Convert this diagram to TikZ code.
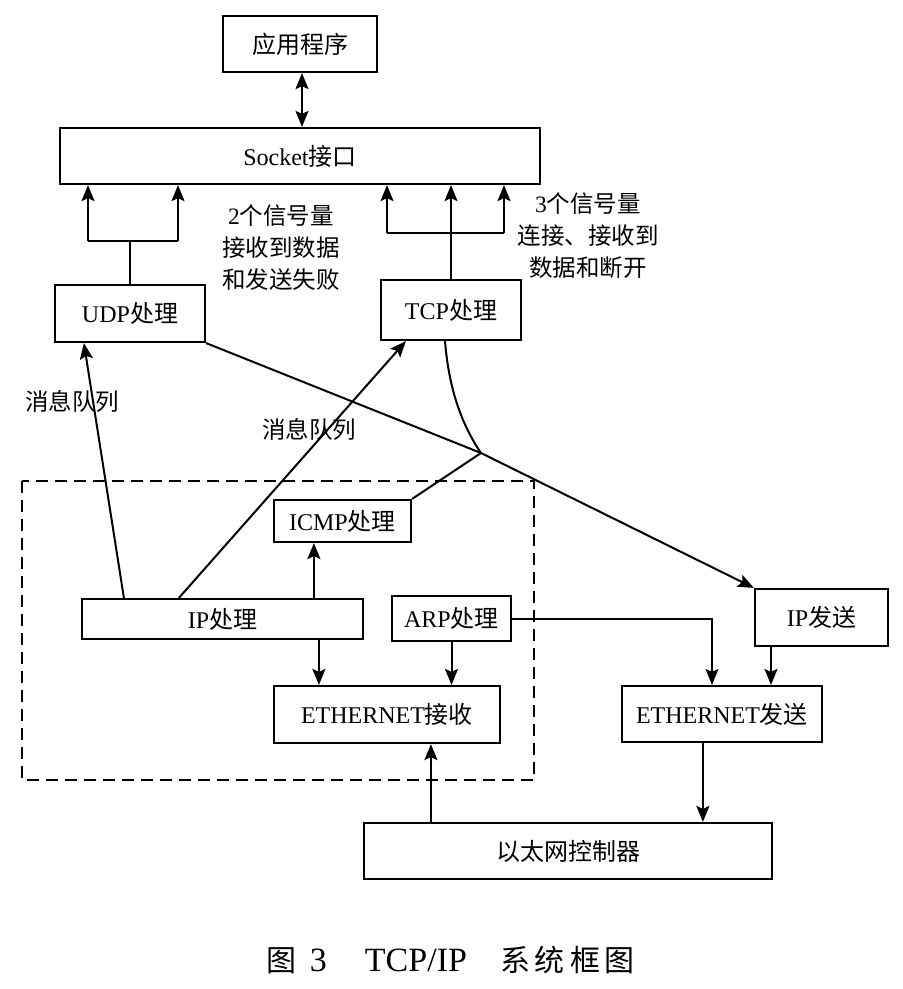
\documentclass[tikz,border=0pt]{standalone}
\usepackage{fontspec}
\setmainfont{Liberation Serif}
\newfontfamily\cjk{Noto Sans CJK SC}
\newcommand{\zh}[1]{{\cjk #1}}
\usetikzlibrary{arrows.meta}
\begin{document}
\begin{tikzpicture}[x=1pt,y=-1pt,line width=2pt,
  box/.style={draw,line width=2.2pt,inner sep=0pt,font=\fontsize{24}{28}\selectfont},
  lbl/.style={inner sep=0pt,align=center,font=\fontsize{23.5}{32}\selectfont},
  arr/.style={-{Stealth[length=16pt,width=13pt,inset=3pt]}},
  arrboth/.style={{Stealth[length=16pt,width=13pt,inset=3pt]}-{Stealth[length=16pt,width=13pt,inset=3pt]}},
  frame/.style={line width=2pt,dash pattern=on 12pt off 7pt}]
\useasboundingbox (0,0) rectangle (903,989);

% boxes
\node[box,minimum width=154pt,minimum height=56pt] (app) at (300,44) {\zh{应用程序}};
\node[box,minimum width=480pt,minimum height=56pt] (sock) at (300,156) {Socket\zh{接口}};
\node[box,minimum width=150pt,minimum height=57pt] (udp) at (130,313.5) {UDP\zh{处理}};
\node[box,minimum width=140pt,minimum height=60pt] (tcp) at (451,310) {TCP\zh{处理}};
\node[box,minimum width=137pt,minimum height=42pt] (icmp) at (342.5,521) {ICMP\zh{处理}};
\node[box,minimum width=281pt,minimum height=40pt] (ip) at (222.5,619) {IP\zh{处理}};
\node[box,minimum width=119pt,minimum height=45pt] (arp) at (451.5,618.5) {ARP\zh{处理}};
\node[box,minimum width=133pt,minimum height=57pt] (ipsend) at (821.5,617.5) {IP\zh{发送}};
\node[box,minimum width=226pt,minimum height=57pt] (ethrx) at (387,714.5) {ETHERNET\zh{接收}};
\node[box,minimum width=200pt,minimum height=56pt] (ethtx) at (722,714) {ETHERNET\zh{发送}};
\node[box,minimum width=408pt,minimum height=56pt] (ctrl) at (568,851) {\zh{以太网控制器}};

% dashed frame
\draw[frame] (22,481) rectangle (534,780);

% labels
\node[lbl] (n2) at (281,248) {2\zh{个信号量}\\\zh{接收到数据}\\\zh{和发送失败}};
\node[lbl] (n3) at (588,236) {3\zh{个信号量}\\\zh{连接、接收到}\\\zh{数据和断开}};
\node[lbl] (q1) at (72,402) {\zh{消息队列}};
\node[lbl] (q2) at (309,430) {\zh{消息队列}};
\node[inner sep=0pt] (cap) at (451,960) {\fontsize{30}{34}\selectfont\zh{图}\hspace{13pt}{\fontsize{34}{36}\selectfont 3\hspace{38pt}TCP/IP}\hspace{33pt}\zh{系}\hspace{5pt}\zh{统}\hspace{5pt}\zh{框}\hspace{5pt}\zh{图}};

% app <-> socket
\coordinate (a1) at ([xshift=2pt]app.south);
\draw[arrboth] (a1) -- (a1 |- sock.north);

% UDP -> socket
\coordinate (uj) at (130,241);
\coordinate (ul) at (88,241);
\coordinate (ur) at (178,241);
\draw (udp.north) -- (uj);
\draw (ul) -- (ur);
\draw[arr] (ul) -- (ul |- sock.south);
\draw[arr] (ur) -- (ur |- sock.south);

% TCP -> socket
\coordinate (tj) at (451,233);
\coordinate (tl) at (387,233);
\coordinate (tr) at (504,233);
\draw (tcp.north) -- (tj);
\draw (tl) -- (tr);
\draw[arr] (tl) -- (tl |- sock.south);
\draw[arr] (tj) -- (tj |- sock.south);
\draw[arr] (tr) -- (tr |- sock.south);

% junction to IP send
\coordinate (j) at (481,453);
\draw (udp.south east) -- (j);
\draw ([xshift=-6pt]tcp.south) .. controls (449,390) and (462,425) .. (j);
\draw (icmp.north east) -- (j);
\draw[arr] (j) -- (ipsend.north west);

% IP processing
\coordinate (p1) at ([xshift=43pt]ip.north west);
\coordinate (p2) at ([xshift=98pt]ip.north west);
\coordinate (p3) at ([xshift=233pt]ip.north west);
\coordinate (p4) at ([xshift=238pt]ip.south west);
\draw[arr] (p1) -- ([xshift=30pt]udp.south west);
\draw[arr] (p2) -- ([xshift=26pt]tcp.south west);
\draw[arr] (p3) -- (p3 |- icmp.south);
\draw[arr] (p4) -- (p4 |- ethrx.north);

% ARP
\draw[arr] (arp.south) -- (arp.south |- ethrx.north);
\draw[arr] (arp.east) -| ([xshift=-10pt]ethtx.north);

% IP send -> ethernet send
\coordinate (s1) at ([xshift=-50.5pt]ipsend.south);
\draw[arr] (s1) -- (s1 |- ethtx.north);

% controller
\coordinate (c1) at ([xshift=68pt]ctrl.north west);
\draw[arr] (c1) -- (c1 |- ethrx.south);
\coordinate (c2) at ([xshift=82pt]ethtx.south west);
\draw[arr] (c2) -- (c2 |- ctrl.north);
\end{tikzpicture}
\end{document}
